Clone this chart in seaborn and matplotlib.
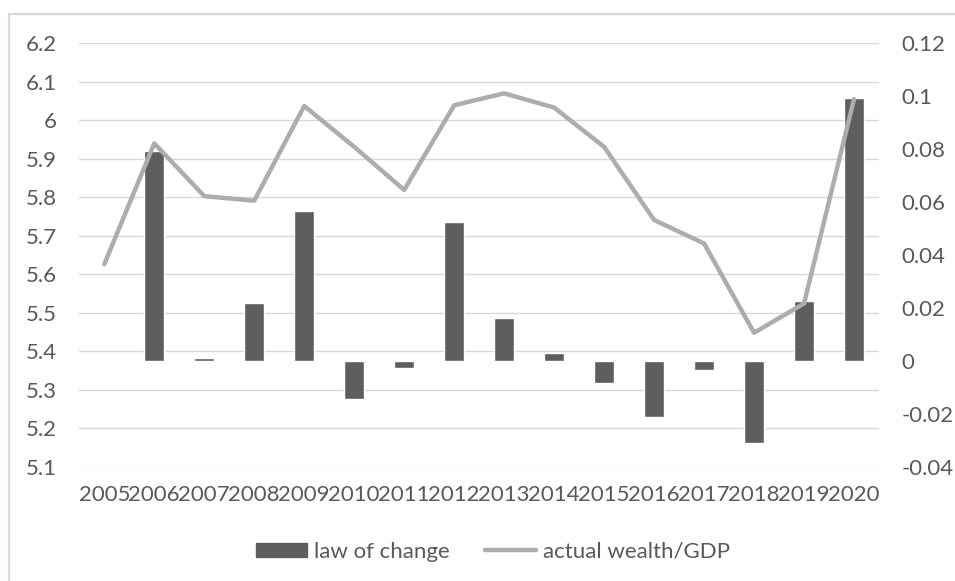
import matplotlib
matplotlib.use("Agg")
import matplotlib.pyplot as plt
import matplotlib.patches as mpatches
from matplotlib.ticker import FixedLocator, FuncFormatter
import numpy as np
import pandas as pd
import seaborn as sns

# Data
years = [str(y) for y in range(2005, 2021)]
law_of_change = [0.0, 0.0794, 0.0009, 0.0217, 0.0566, -0.0146, -0.0028, 0.0524,
                 0.0163, 0.0028, -0.0083, -0.0212, -0.0035, -0.0312, 0.0226, 0.0992]
wealth_gdp = [5.626, 5.940, 5.803, 5.791, 6.037, 5.931, 5.819, 6.039,
              6.070, 6.033, 5.931, 5.741, 5.680, 5.448, 5.524, 6.055]
left_ticks = [5.1, 5.2, 5.3, 5.4, 5.5, 5.6, 5.7, 5.8, 5.9, 6.0, 6.1, 6.2]
right_ticks = [-0.04, -0.02, 0.0, 0.02, 0.04, 0.06, 0.08, 0.10, 0.12]

df = pd.DataFrame({"year": years, "law": law_of_change, "wealth": wealth_gdp})

sns.set_theme(style="white")
plt.rcParams["font.family"] = ["Lato", "DejaVu Sans"]

TEXT = "#595959"
BAR = "#5E5E5E"
LINE = "#ADADAD"
GRID = "#D9D9D9"
FS = 16

W, H = 955, 581
fig = plt.figure(figsize=(W / 100, H / 100), dpi=100)
rect = [79.3 / W, 1 - 466.7 / H, (879 - 79.3) / W, (466.7 - 43.3) / H]

# Base axes: left scale, gridlines, left tick labels
ax = fig.add_axes(rect)
ax.set_ylim(5.1, 6.2)
ax.yaxis.set_major_locator(FixedLocator(left_ticks))
ax.yaxis.set_major_formatter(FuncFormatter(lambda v, p: f"{v:g}"))
ax.grid(axis="y", color=GRID, linewidth=1.0)
ax.set_axisbelow(True)
for s in ax.spines.values():
    s.set_visible(False)
ax.tick_params(axis="y", length=0, pad=16, labelsize=FS, labelcolor=TEXT)
ax.tick_params(axis="x", length=0, pad=13, labelsize=FS, labelcolor=TEXT)

# Bars on the secondary (right) scale
ax_bar = ax.twinx()
sns.barplot(data=df, x="year", y="law", color=BAR, saturation=1, width=0.4,
            errorbar=None, ax=ax_bar)
ax_bar.set_ylim(-0.04, 0.12)
ax_bar.yaxis.set_major_locator(FixedLocator(right_ticks))
ax_bar.yaxis.set_major_formatter(FuncFormatter(lambda v, p: f"{round(v, 2):g}"))
ax_bar.grid(False)
for s in ax_bar.spines.values():
    s.set_visible(False)
ax_bar.tick_params(axis="y", length=0, pad=16, labelsize=FS, labelcolor=TEXT)
ax_bar.set_ylabel("")
ax_bar.set_xlabel("")

# Line on the primary (left) scale, drawn above the bars
ax_line = ax.twinx()
sns.pointplot(data=df, x="year", y="wealth", color=LINE, markers="", errorbar=None,
              linewidth=3.2, ax=ax_line)
for ln in ax_line.lines:
    ln.set_solid_joinstyle("round")
    ln.set_solid_capstyle("round")
ax_line.set_ylim(5.1, 6.2)
ax_line.set_yticks([])
ax_line.grid(False)
for s in ax_line.spines.values():
    s.set_visible(False)
ax_line.set_ylabel("")
ax_line.set_xlabel("")

ax.set_xlim(-0.5, len(years) - 0.5)
ax.set_xticks(range(len(years)))
ax.set_xticklabels(years)
ax.set_xlabel("")
ax.set_ylabel("")

# Legend below the plot
bar_handle = mpatches.Patch(color=BAR)
line_handle = plt.Line2D([], [], color=LINE, linewidth=3.2, solid_capstyle="round")
fig.legend([bar_handle, line_handle], ["law of change", "actual wealth/GDP"],
           loc="center", bbox_to_anchor=(493 / W, 1 - 551.7 / H), ncol=2,
           frameon=False, fontsize=FS, labelcolor=TEXT, handlelength=2.3,
           handleheight=0.6, handletextpad=0.3, columnspacing=1.6)

# Chart area frame
fig.patches.append(mpatches.Rectangle((8.5 / W, -0.05), 1.1, 1.05 - 14.5 / H,
                                      transform=fig.transFigure, fill=False,
                                      edgecolor=GRID, linewidth=1.6))

fig.savefig("out.png", dpi=100)
